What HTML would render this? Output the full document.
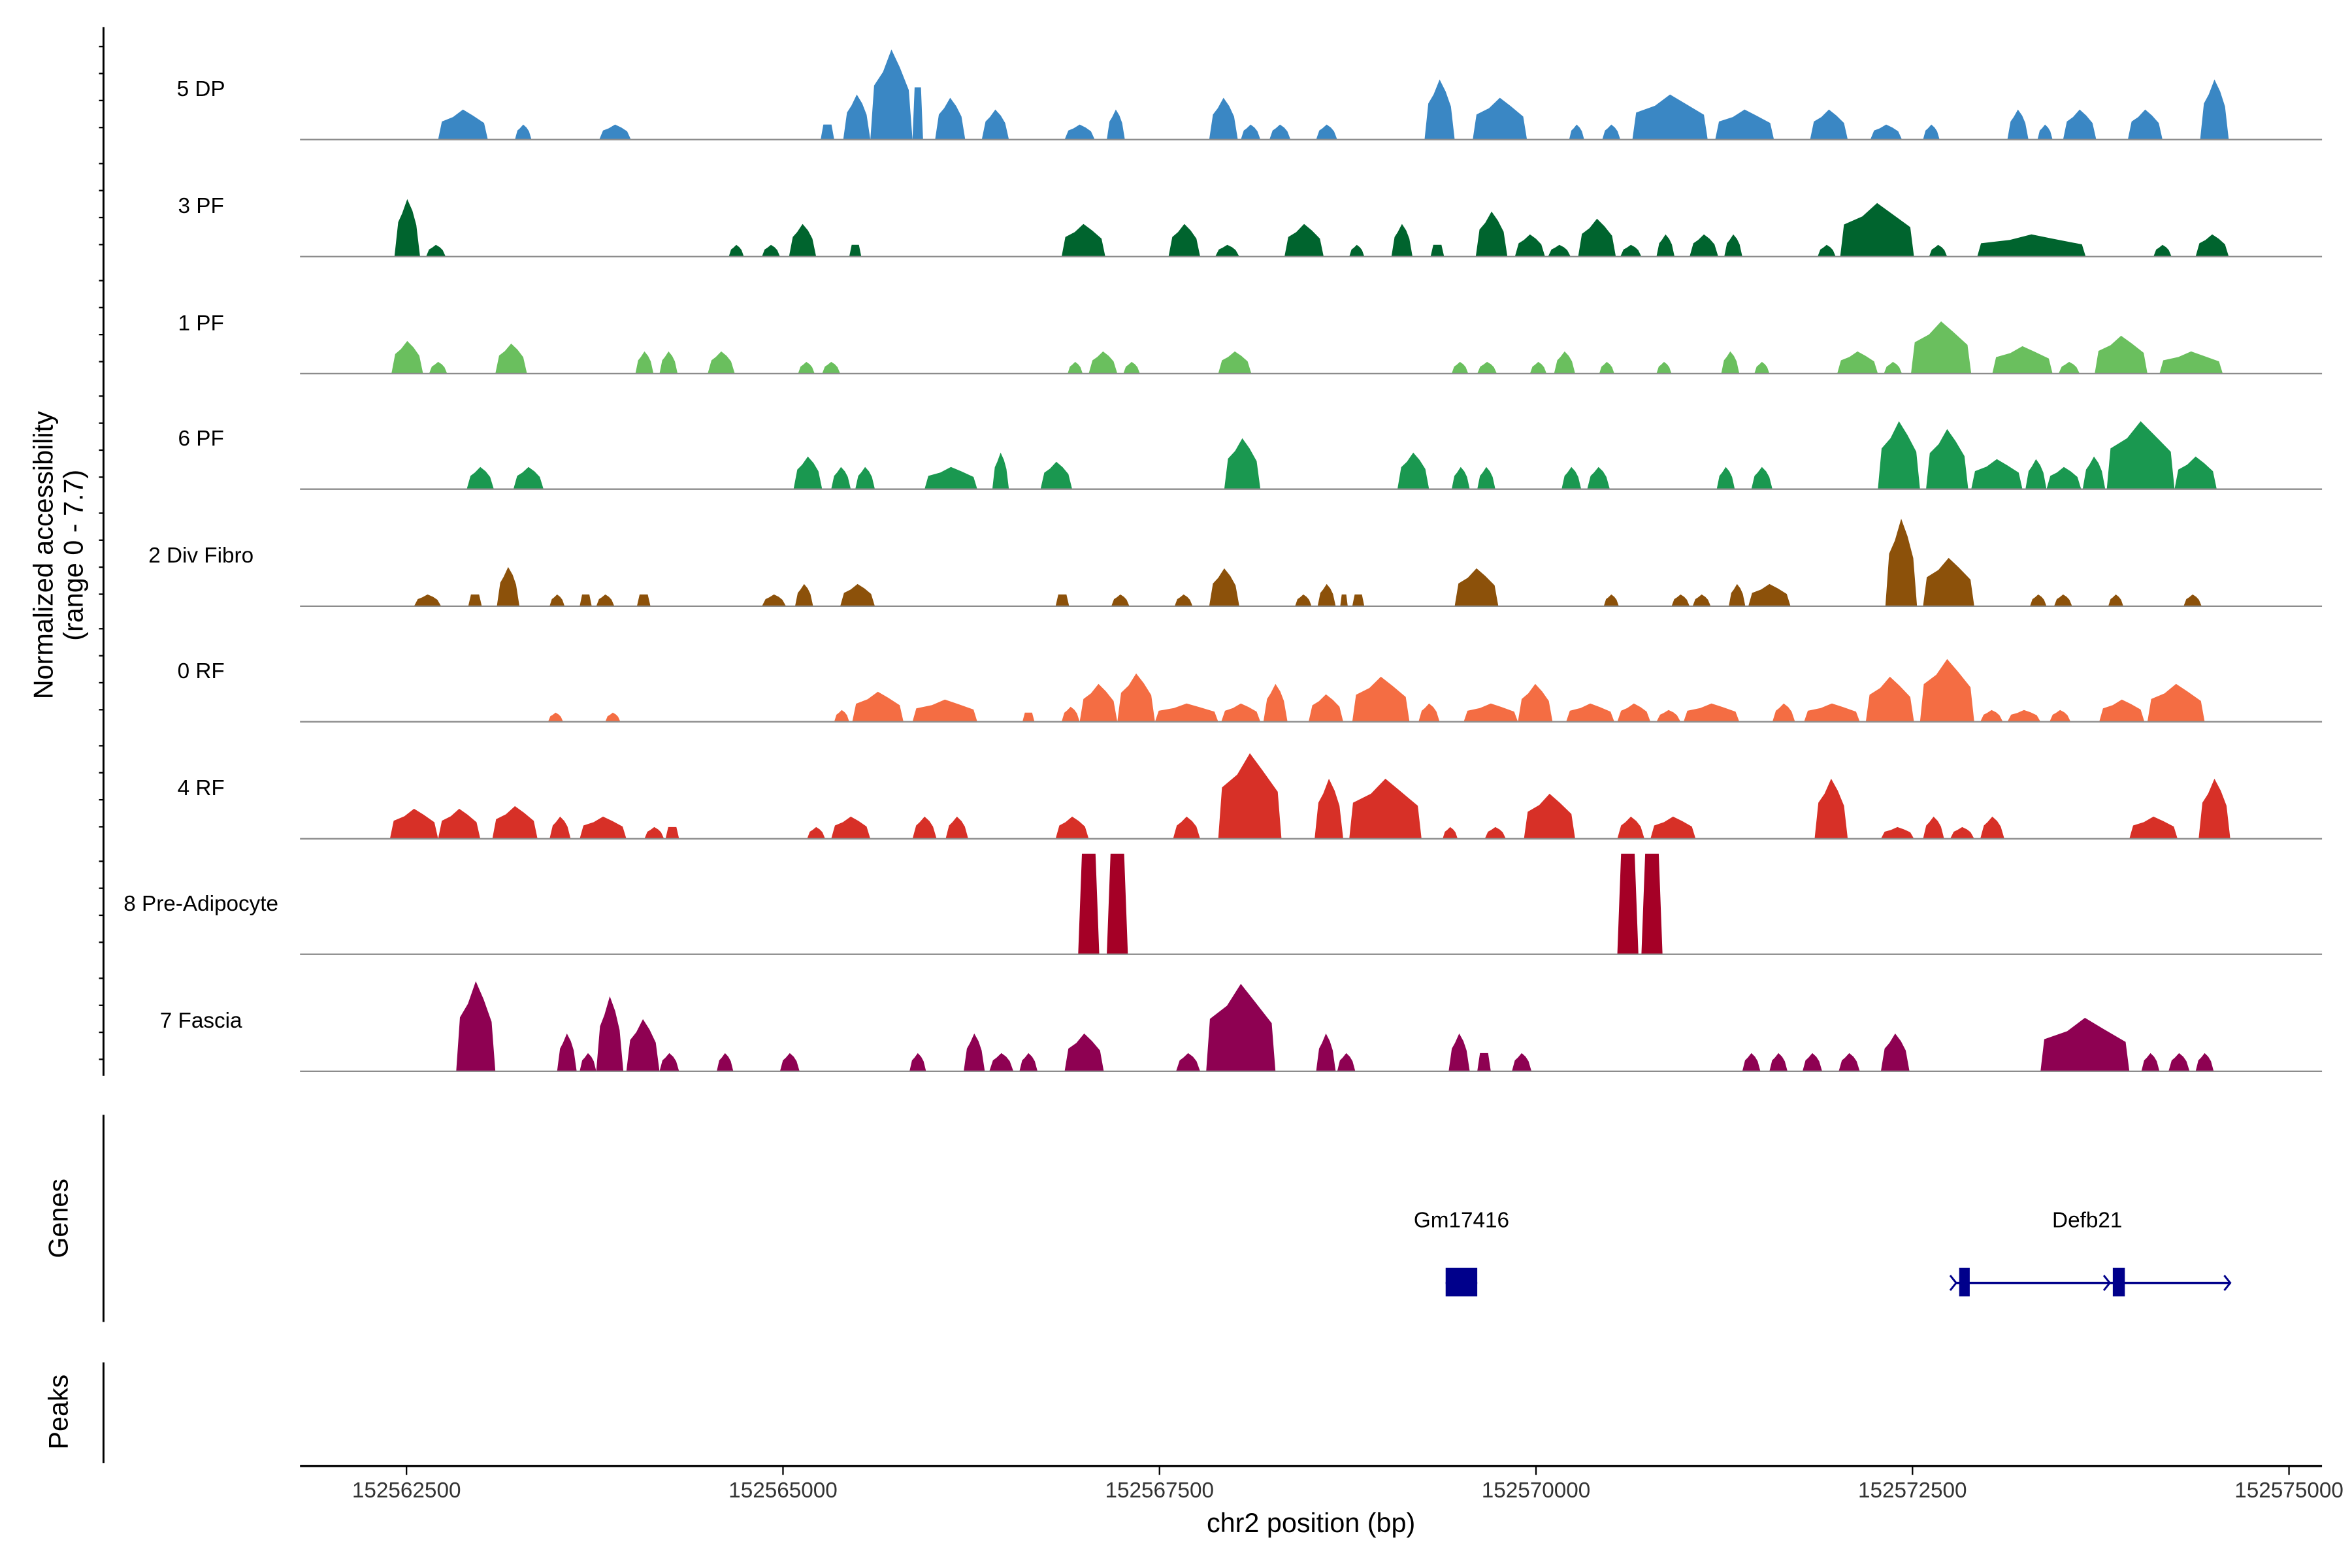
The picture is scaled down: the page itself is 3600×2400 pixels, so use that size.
<!DOCTYPE html>
<html><head><meta charset="utf-8"><style>
html,body{margin:0;padding:0;background:#fff;}
svg{display:block;font-family:"Liberation Sans",Arial,sans-serif;}
</style></head><body>
<svg id="chart" width="3600" height="2400" viewBox="0 0 1568 1045" preserveAspectRatio="none" xmlns="http://www.w3.org/2000/svg">
<rect width="1568" height="1045" fill="#fff"/>
<g id="tracks"></g>
<g id="axes"></g>
</svg>
<script>
// positions: kb offset from 152,560,000 bp; values: normalized accessibility
const trackNames = ["5 DP","3 PF","1 PF","6 PF","2 Div Fibro","0 RF","4 RF","8 Pre-Adipocyte","7 Fascia"];
const trackColors = ["#3a87c4","#00642e","#6abf5e","#1a9850","#8c510a","#f46d43","#d73027","#a50026","#8e0152"];
const peaks5DP = [[2.71,3.04,2.3],[3.22,3.33,1.15],[3.78,3.99,1.15],[5.25,5.34,1.15],[5.40,5.58,3.45],[5.58,5.86,6.9],[5.86,5.93,4.0],[6.01,6.21,3.2],[6.32,6.50,2.3],[6.87,7.07,1.15],[7.15,7.27,2.3],[7.83,8.02,3.2],[8.04,8.17,1.15],[8.23,8.37,1.15],[8.54,8.68,1.15],[9.26,9.46,4.6],[9.58,9.94,3.2],[10.22,10.32,1.15],[10.44,10.56,1.15],[10.64,11.14,3.45],[11.19,11.58,2.3],[11.82,12.07,2.3],[12.22,12.43,1.15],[12.57,12.68,1.15],[13.13,13.27,2.3],[13.33,13.43,1.15],[13.50,13.72,2.3],[13.93,14.16,2.3],[14.41,14.60,4.6]];
const peaks3PF = [[2.42,2.59,4.4],[2.63,2.76,0.9],[4.64,4.74,0.9],[4.86,4.98,0.9],[5.04,5.22,2.5],[5.44,5.52,0.9],[6.85,7.14,2.5],[7.56,7.77,2.5],[7.87,8.03,0.9],[8.33,8.59,2.5],[8.76,8.86,0.9],[9.04,9.18,2.5],[9.30,9.39,0.9],[9.60,9.81,3.45],[9.86,10.06,1.7],[10.08,10.23,0.9],[10.28,10.53,2.9],[10.56,10.70,0.9],[10.80,10.92,1.7],[11.02,11.21,1.7],[11.25,11.37,1.7],[11.87,11.99,0.9],[12.02,12.51,4.1],[12.61,12.73,0.9],[12.93,13.65,1.7],[14.10,14.22,0.9],[14.38,14.60,1.7]];
const peaks1PF = [[2.40,2.61,2.5],[2.65,2.77,0.9],[3.09,3.30,2.3],[4.02,4.14,1.7],[4.18,4.30,1.7],[4.50,4.68,1.7],[5.10,5.21,0.9],[5.26,5.38,0.9],[6.89,6.99,0.9],[7.03,7.22,1.7],[7.26,7.37,0.9],[7.89,8.11,1.7],[9.44,9.55,0.9],[9.61,9.74,0.9],[9.96,10.07,0.9],[10.12,10.26,1.7],[10.42,10.52,0.9],[10.80,10.90,0.9],[11.23,11.35,1.7],[11.45,11.55,0.9],[12.00,12.27,1.7],[12.31,12.43,0.9],[12.49,12.89,4.0],[13.03,13.43,2.1],[13.47,13.61,0.9],[13.71,14.06,2.9],[14.14,14.56,1.7]];
const peaks6PF = [[2.90,3.08,1.7],[3.21,3.41,1.7],[5.07,5.26,2.5],[5.32,5.45,1.7],[5.48,5.61,1.7],[5.94,6.29,1.7],[6.39,6.50,2.8],[6.71,6.92,2.1],[7.93,8.17,3.9],[9.08,9.29,2.8],[9.44,9.56,1.7],[9.61,9.73,1.7],[10.17,10.30,1.7],[10.34,10.49,1.7],[11.20,11.32,1.7],[11.43,11.57,1.7],[12.27,12.55,5.2],[12.59,12.87,4.6],[12.89,13.23,2.3],[13.25,13.39,2.3],[13.39,13.62,1.7],[13.63,13.78,2.5],[13.79,14.24,5.2],[14.24,14.52,2.5]];
const peaks2DF = [[2.55,2.73,0.9],[2.91,3.00,0.9],[3.10,3.25,3.0],[3.45,3.55,0.9],[3.65,3.73,0.9],[3.76,3.88,0.9],[4.03,4.12,0.9],[4.86,5.02,0.9],[5.08,5.20,1.7],[5.38,5.61,1.7],[6.81,6.90,0.9],[7.18,7.30,0.9],[7.60,7.72,0.9],[7.83,8.03,2.9],[8.40,8.51,0.9],[8.55,8.67,1.7],[8.70,8.75,0.9],[8.78,8.86,0.9],[9.46,9.75,2.9],[10.45,10.55,0.9],[10.90,11.02,0.9],[11.04,11.16,0.9],[11.28,11.39,1.7],[11.41,11.69,1.7],[12.32,12.53,6.7],[12.57,12.91,3.7],[13.28,13.39,0.9],[13.44,13.56,0.9],[13.80,13.90,0.9],[14.30,14.42,0.9]];
const peaks0RF = [[3.44,3.54,0.7],[3.82,3.92,0.7],[5.34,5.44,0.9],[5.46,5.80,2.3],[5.86,6.29,1.7],[6.59,6.67,0.7],[6.85,6.97,1.15],[6.97,7.22,2.9],[7.22,7.47,3.7],[7.47,7.89,1.4],[7.91,8.17,1.4],[8.19,8.35,2.9],[8.49,8.72,2.1],[8.78,9.16,3.45],[9.22,9.36,1.4],[9.52,9.88,1.4],[9.88,10.11,2.9],[10.20,10.52,1.4],[10.54,10.76,1.4],[10.80,10.96,0.9],[10.98,11.35,1.4],[11.57,11.72,1.4],[11.78,12.15,1.4],[12.19,12.51,3.45],[12.55,12.91,4.8],[12.95,13.10,0.9],[13.13,13.35,0.9],[13.41,13.55,0.9],[13.74,14.04,1.7],[14.06,14.44,2.9]];
const peaks4RF = [[2.39,2.71,2.3],[2.71,2.99,2.3],[3.07,3.37,2.5],[3.45,3.59,1.7],[3.65,3.96,1.7],[4.08,4.21,0.9],[4.22,4.31,0.9],[5.16,5.28,0.9],[5.32,5.58,1.7],[5.86,6.02,1.7],[6.08,6.23,1.7],[6.81,7.03,1.7],[7.59,7.77,1.7],[7.89,8.31,6.55],[8.53,8.72,4.6],[8.76,9.24,4.6],[9.38,9.48,0.9],[9.66,9.80,0.9],[9.92,10.26,3.45],[10.54,10.72,1.7],[10.76,11.06,1.7],[11.85,12.07,4.6],[12.29,12.51,0.9],[12.57,12.71,1.7],[12.75,12.91,0.9],[12.95,13.11,1.7],[13.94,14.26,1.7],[14.40,14.61,4.6]];
const peaks8PA = [[6.96,7.10,7.7],[7.15,7.29,7.7],[10.54,10.68,7.7],[10.70,10.84,7.7]];
const peaks7FA = [[2.83,3.09,6.9],[3.50,3.63,2.9],[3.65,3.76,1.4],[3.76,3.94,5.75],[3.96,4.18,4.0],[4.18,4.31,1.4],[4.56,4.67,1.4],[4.98,5.11,1.4],[5.84,5.95,1.4],[6.20,6.34,2.9],[6.37,6.53,1.4],[6.57,6.69,1.4],[6.87,7.13,2.9],[7.61,7.77,1.4],[7.81,8.27,6.7],[8.54,8.67,2.9],[8.68,8.80,1.4],[9.42,9.56,2.9],[9.61,9.70,1.4],[9.84,9.97,1.4],[11.37,11.49,1.4],[11.55,11.67,1.4],[11.77,11.90,1.4],[12.01,12.15,1.4],[12.29,12.48,2.9],[13.35,13.94,4.1],[14.02,14.14,1.4],[14.20,14.34,1.4],[14.38,14.50,1.4]];
const allPeaks = [peaks5DP,peaks3PF,peaks1PF,peaks6PF,peaks2DF,peaks0RF,peaks4RF,peaks8PA,peaks7FA];
const xTicks = [2.5,5.0,7.5,10.0,12.5,15.0];
const xTickLabels = ["152562500","152565000","152567500","152570000","152572500","152575000"];
const genes = [{name:"Gm17416",start:9.40,end:9.61,exons:[[9.40,9.61]],strand:0},
               {name:"Defb21",start:12.79,end:14.61,exons:[[12.81,12.88],[13.83,13.91]],strand:1}];
const yMax = 7.7;

const NS="http://www.w3.org/2000/svg";
const X = kb => 20 + kb*100.4;
const baselines=[93,171,249,326,404,481,559,636,714];
const hScale = v => v/yMax*67;
function mk(tag,attrs,parent){const e=document.createElementNS(NS,tag);for(const k in attrs)e.setAttribute(k,attrs[k]);parent.appendChild(e);return e;}
const tg=document.getElementById('tracks'), ag=document.getElementById('axes');

allPeaks.forEach((arr,ti)=>{
  const b=baselines[ti];
  const g=mk('g',{},tg);
  
  
  arr.forEach(p=>{
    const x0=X(p[0]),x1=X(p[1]),h=hScale(p[2]),w=x1-x0;
    let pts;
    if(w>10 && ti!==7){
      const s=Math.min(2.5,w*0.15);
      pts=`${x0},${b} ${x0+s},${b-h*0.6} ${x0+w*0.3},${b-h*0.75} ${x0+w*0.5},${b-h} ${x0+w*0.7},${b-h*0.8} ${x1-s},${b-h*0.55} ${x1},${b}`;
    } else {
      const s=Math.min(2.5,w*0.2);
      pts=`${x0},${b} ${x0+s},${b-h} ${x1-s},${b-h} ${x1},${b}`;
    }
    const el=mk('polygon',{points:pts,fill:trackColors[ti]},g);
    
    
  });
  const bl=mk('line',{x1:200,x2:1548,y1:b,y2:b,stroke:'#8c8c8c','stroke-width':1},g);
  
  
  const t=mk('text',{x:134,y:b-29,'text-anchor':'middle','font-size':14.5,fill:'#000'},g);
  t.textContent=trackNames[ti];
  
  
  [0,18,36,54].forEach(d=>{mk('line',{x1:66,x2:69,y1:b-d-8,y2:b-d-8,stroke:'#000','stroke-width':1},ag);});
});
let e=mk('line',{x1:69,x2:69,y1:18,y2:717,stroke:'#000','stroke-width':1.3},ag);

e=mk('text',{transform:'translate(35,370) rotate(-90)','text-anchor':'middle','font-size':18},ag);e.textContent='Normalized accessibility';

e=mk('text',{transform:'translate(55,370) rotate(-90)','text-anchor':'middle','font-size':18},ag);e.textContent='(range 0 - 7.7)';

mk('line',{x1:69,x2:69,y1:743,y2:881,stroke:'#000','stroke-width':1.3},ag);
e=mk('text',{transform:'translate(45,812) rotate(-90)','text-anchor':'middle','font-size':18},ag);e.textContent='Genes';

mk('line',{x1:69,x2:69,y1:908,y2:975,stroke:'#000','stroke-width':1.3},ag);
e=mk('text',{transform:'translate(45,941) rotate(-90)','text-anchor':'middle','font-size':18},ag);e.textContent='Peaks';

genes.forEach(gn=>{
  const g=mk('g',{},ag);
  
  
  const c='#00008b';
  mk('line',{x1:X(gn.start),x2:X(gn.end),y1:855,y2:855,stroke:c,'stroke-width':1.5},g);
  gn.exons.forEach(ex=>mk('rect',{x:X(ex[0]),y:845,width:X(ex[1])-X(ex[0]),height:19,fill:c},g));
  if(gn.strand){[gn.start,gn.exons[1][0]-0.02,gn.end].forEach(k=>{const x=X(k);mk('polyline',{points:`${x-4},850 ${x},855 ${x-4},860`,fill:'none',stroke:c,'stroke-width':1.3},g);});}
  const t=mk('text',{x:(X(gn.start)+X(gn.end))/2+(gn.strand?-4:0),y:818,'text-anchor':'middle','font-size':14.5},g);t.textContent=gn.name;
});
e=mk('line',{x1:200,x2:1548,y1:977,y2:977,stroke:'#000','stroke-width':1.5},ag);

xTicks.forEach((k,i)=>{
  mk('line',{x1:X(k),x2:X(k),y1:977,y2:983,stroke:'#000','stroke-width':1},ag);
  const t=mk('text',{x:X(k),y:998,'text-anchor':'middle','font-size':14.5,fill:'#333'},ag);
  t.textContent=xTickLabels[i];
  
  
});
e=mk('text',{x:874,y:1021,'text-anchor':'middle','font-size':18},ag);e.textContent='chr2 position (bp)';

</script>
</body></html>
